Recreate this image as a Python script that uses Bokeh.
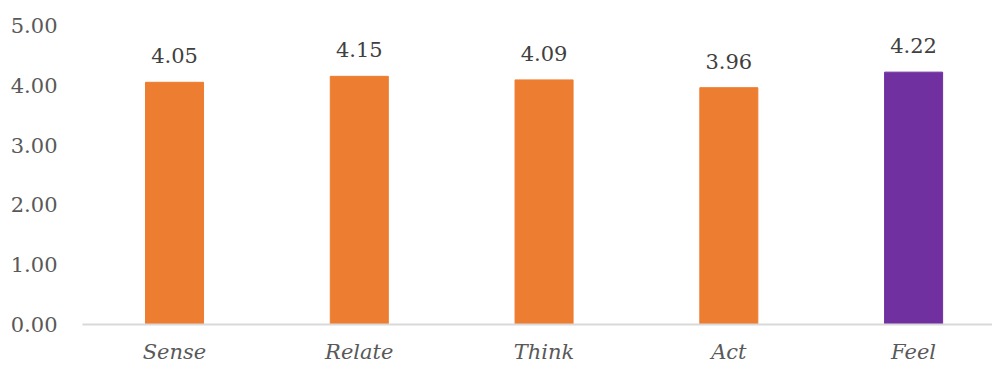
from bokeh.plotting import figure
from bokeh.models import Range1d, FixedTicker, ColumnDataSource, LabelSet
from bokeh.core.properties import value
from bokeh.embed import file_html
from bokeh.resources import INLINE

categories = ["Sense", "Relate", "Think", "Act", "Feel"]
values = [4.05, 4.15, 4.09, 3.96, 4.22]
colors = ["#ED7D31", "#ED7D31", "#ED7D31", "#ED7D31", "#7030A0"]
y_ticks = [0, 1, 2, 3, 4, 5]
y_tick_labels = ["0.00", "1.00", "2.00", "3.00", "4.00", "5.00"]

FONT = "DejaVu Serif"

xs = list(range(len(categories)))
src = ColumnDataSource(dict(x=xs, top=values, color=colors,
                            label=[f"{v:.2f}" for v in values]))

p = figure(width=992, height=367, output_backend="svg", toolbar_location=None,
           x_range=Range1d(-0.498, 4.427), y_range=Range1d(0, 5),
           min_border_left=82, min_border_right=0, min_border_top=25, min_border_bottom=43)
p.outline_line_color = None
p.grid.visible = False
p.background_fill_color = "white"
p.border_fill_color = "white"

p.vbar(x="x", top="top", width=0.314, color="color", source=src)

labels = LabelSet(x="x", y="top", text="label", source=src, text_align="center",
                  text_baseline="alphabetic", y_offset=19,
                  text_font=value(FONT), text_font_size=value("21px"),
                  text_color="#404040")
p.add_layout(labels)

xa = p.xaxis[0]
xa.ticker = FixedTicker(ticks=xs)
xa.major_label_overrides = {i: c for i, c in enumerate(categories)}
xa.major_tick_line_color = None
xa.major_tick_out = 0
xa.major_tick_in = 0
xa.minor_tick_line_color = None
xa.axis_line_color = "#D9D9D9"
xa.axis_line_width = 2
xa.major_label_text_font = FONT
xa.major_label_text_font_style = "italic"
xa.major_label_text_font_size = "21px"
xa.major_label_text_color = "#595959"
xa.major_label_standoff = 15

ya = p.yaxis[0]
ya.ticker = FixedTicker(ticks=y_ticks)
ya.major_label_overrides = {t: l for t, l in zip(y_ticks, y_tick_labels)}
ya.axis_line_color = None
ya.major_tick_line_color = None
ya.major_tick_out = 0
ya.major_tick_in = 0
ya.minor_tick_line_color = None
ya.major_label_text_font = FONT
ya.major_label_text_font_size = "21px"
ya.major_label_text_color = "#595959"
ya.major_label_standoff = 25

open("out.html", "w").write(file_html(p, INLINE))
